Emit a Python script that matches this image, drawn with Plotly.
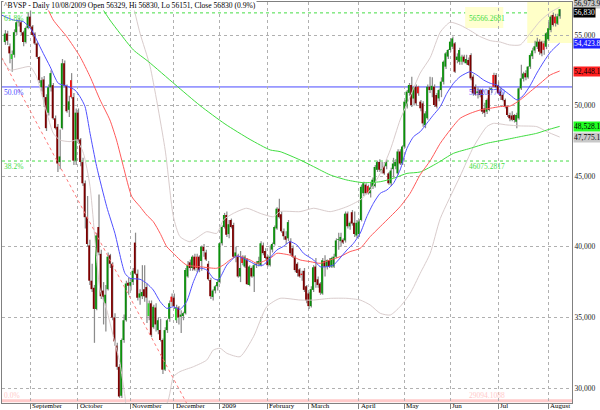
import plotly.graph_objects as go

# ---------------- data ----------------
opens = [
    54500, 55100, 54200, 53300, 53600, 55200, 55900, 55900, 55200, 54500,
    55500, 56300, 55600, 55100, 54400, 53450, 51300, 51850, 50600, 49500,
    51300, 51450, 49100, 48500, 46000, 48400, 53000, 51400, 49700, 51800,
    50600, 46100, 49500, 47600, 46000, 44500, 42100, 40100, 37600, 37100,
    35600, 41400, 39500, 36900, 36000, 37000, 39400, 38800, 35000, 33000,
    31500, 29450, 33400, 34800, 37450, 37250, 37500, 40300, 38100, 36400,
    36500, 37000, 37150, 35100, 36000, 34300, 35700, 34100, 34100, 33400,
    31300, 34100, 34900, 36470, 36400, 34800, 35700, 35050, 35100, 35300,
    37900, 38900, 38500, 39300, 39300, 39300, 39000, 40000, 39600, 38800,
    37650, 36450, 36900, 37200, 37500, 40250, 41400, 42250, 40900, 41900,
    41550, 39300, 39300, 37900, 39300, 38600, 39100, 37300, 38500, 37900,
    38700, 38800, 38700, 40100, 39700, 39300, 38700, 39800, 40200, 41300,
    42700, 42300, 41100, 40750, 40600, 40400, 39900, 39300, 38800, 38400,
    38100, 38300, 37200, 36700, 35800, 36950, 38600, 37700, 37400, 36700,
    39000, 38600, 39050, 38600, 38600, 39300, 40500, 40400, 40500, 40450,
    42350, 41450, 42450, 41700, 40800, 40900, 41900, 43800, 44400, 44300,
    43800, 44250, 44300, 45450, 46000, 45400, 45700, 45700, 45200, 44500,
    45500, 45700, 45200, 46750, 45900, 47100, 49950, 50900, 51460, 50500,
    51340, 51340, 50280, 50160, 48620, 49100, 51340, 51100, 51340, 50750,
    50510, 51100, 51690, 52760, 53470, 53940, 54170, 54410, 53230, 53110,
    53110, 53470, 53000, 53230, 53580, 52050, 51340, 50900, 51100, 51100,
    49800, 49570, 51100, 51100, 52170, 52170, 51460, 51000, 50750, 50400,
    49930, 49330, 49300, 49330, 48860, 49100, 51220, 51900, 52300, 52000,
    52760, 53500, 53900, 54170, 54530, 54530, 54410, 54170, 54700, 55350,
    56420, 56300, 55800, 56329,
]
highs = [
    55350, 55300, 54400, 53900, 55400, 56100, 56200, 56000, 55300, 55600,
    56600, 56800, 55700, 55200, 54500, 53500, 52000, 52100, 50800, 51500,
    52500, 51600, 49300, 48700, 48300, 53300, 53200, 51500, 50700, 52300,
    50900, 49800, 49800, 47700, 46300, 44700, 43600, 40500, 38800, 37300,
    41000, 43700, 39800, 37500, 37300, 39600, 39500, 38900, 35300, 33200,
    31700, 33500, 35200, 37600, 37800, 37700, 38500, 41000, 38400, 37000,
    38700, 38700, 37400, 36200, 36200, 35900, 36000, 35000, 34900, 33500,
    34300, 34900, 36200, 36700, 36700, 35900, 35800, 35500, 35400, 38500,
    39000, 39100, 39400, 39500, 39500, 39400, 40100, 40200, 39800, 39000,
    37800, 37000, 37300, 37700, 40300, 41500, 42400, 42500, 41900, 42000,
    41700, 40000, 39500, 39700, 39400, 39400, 39200, 38700, 38600, 38800,
    39000, 39300, 40400, 40300, 39900, 39400, 40100, 40300, 41500, 42800,
    43400, 42500, 41300, 41100, 41900, 40600, 40100, 39400, 38900, 38500,
    38300, 38500, 37300, 36800, 37200, 38700, 39200, 37900, 37500, 39200,
    39400, 39100, 39200, 39300, 39500, 40600, 41000, 41000, 40600, 42500,
    42500, 41800, 42600, 42500, 41900, 41950, 44400, 44600, 44500, 44400,
    44600, 44900, 45800, 46100, 46200, 46000, 46000, 46200, 45300, 45600,
    46300, 46200, 46900, 46900, 47200, 50400, 51100, 51600, 52050, 51400,
    51500, 51400, 50400, 50300, 49600, 51500, 52050, 52000, 51500, 50900,
    51200, 52000, 53200, 53800, 54000, 54760, 54900, 54500, 53700, 54100,
    53600, 53600, 53600, 53400, 53700, 52200, 51500, 51300, 51200, 51200,
    50200, 50500, 51300, 51300, 52330, 52300, 51700, 51300, 50900, 50500,
    50000, 49500, 49600, 49400, 49500, 51300, 52900, 52400, 52500, 52800,
    53700, 54100, 54600, 54800, 54700, 54600, 54600, 55200, 55900, 56400,
    56600, 56500, 56500, 56830,
]
lows = [
    54300, 54300, 53000, 52400, 53400, 55000, 55600, 55000, 54200, 54400,
    55400, 55500, 54900, 54300, 53300, 51600, 51000, 49900, 48200, 49300,
    51000, 49000, 48300, 45300, 45500, 48300, 51300, 49500, 49200, 50500,
    45800, 45800, 47300, 45700, 44300, 41300, 40000, 37300, 36800, 33200,
    35500, 39400, 36300, 34500, 34000, 36900, 38500, 34800, 33000, 31300,
    29300, 29300, 33200, 34700, 36600, 36900, 37300, 38000, 36200, 35900,
    36300, 36100, 34600, 34800, 33600, 34200, 34000, 33800, 33300, 31000,
    31200, 33900, 34700, 35800, 35600, 34600, 34500, 33900, 34800, 35200,
    37800, 38300, 38300, 38300, 38200, 38200, 38300, 39300, 39000, 37600,
    36300, 36200, 36700, 36900, 37400, 40100, 41300, 40700, 40600, 41300,
    39200, 38900, 37800, 37500, 38700, 38500, 37300, 37200, 37800, 36800,
    38500, 38600, 38600, 39400, 39100, 38600, 38600, 39600, 40100, 41200,
    42000, 41000, 40500, 40200, 40400, 39400, 39200, 38200, 37900, 37800,
    37600, 36800, 36000, 35600, 35700, 36800, 37100, 37100, 36600, 36600,
    37900, 38400, 38500, 38500, 38500, 39200, 39800, 40000, 40200, 40300,
    41300, 41200, 41500, 40700, 40600, 40700, 41800, 43600, 43700, 43700,
    43500, 44100, 44200, 45300, 45300, 45200, 45100, 45500, 44400, 44300,
    44900, 45500, 45100, 45800, 45800, 47000, 49800, 50700, 49900, 50000,
    50000, 50700, 49600, 48500, 48400, 49000, 50900, 50600, 49900, 49800,
    50300, 50600, 51500, 52600, 53300, 53800, 54000, 52300, 53000, 52900,
    52900, 53000, 52900, 52800, 51800, 50700, 50700, 50500, 50600, 49400,
    49200, 49400, 49600, 50900, 51300, 51200, 50800, 50400, 50300, 49800,
    49200, 48900, 48900, 48800, 48400, 49000, 51100, 51700, 51800, 51900,
    52600, 53300, 53700, 54000, 53600, 53500, 53600, 54000, 54600, 55200,
    55600, 55600, 55700, 56151,
]
closes = [
    55100, 54600, 53700, 53650, 55200, 55900, 55950, 55200, 54500, 55500,
    56300, 55600, 55000, 54400, 53450, 51800, 51800, 50600, 48400, 51300,
    52300, 49100, 48400, 45900, 46400, 53000, 51400, 49600, 50300, 50600,
    46100, 49500, 47600, 46000, 44500, 42100, 40200, 37600, 37000, 35600,
    40800, 39600, 36500, 36450, 36600, 39300, 38800, 35000, 33300, 31500,
    29400, 33400, 34800, 37400, 37250, 37500, 38300, 38100, 36400, 36700,
    36800, 36500, 36400, 36000, 33750, 35750, 34500, 34800, 33400, 31300,
    34100, 34800, 36000, 36100, 35800, 35700, 35000, 35200, 35300, 38350,
    38700, 38500, 39300, 38400, 38500, 38350, 40000, 39700, 39100, 37700,
    36500, 36900, 37200, 37500, 40250, 41400, 42250, 40850, 41600, 41400,
    39300, 39600, 37900, 38500, 38850, 39300, 37350, 38600, 37900, 38700,
    38800, 39000, 40250, 39550, 39200, 38700, 39300, 40200, 41400, 42700,
    42100, 41100, 40750, 40500, 41750, 39550, 39300, 38350, 38150, 37900,
    38000, 36950, 36200, 35800, 37000, 38550, 37500, 37300, 36750, 39050,
    38600, 39050, 38600, 39200, 39300, 40450, 40500, 40700, 40300, 42350,
    41450, 41700, 41650, 40900, 41700, 41800, 44250, 44500, 43800, 43800,
    44200, 44750, 45650, 46000, 45450, 45500, 45200, 46000, 44500, 45400,
    45900, 46000, 46750, 45900, 47100, 50280, 50990, 51460, 50040, 51300,
    50160, 50870, 49810, 48740, 49450, 51340, 51100, 51400, 50040, 49930,
    51100, 51700, 53110, 53700, 53940, 54530, 54760, 52400, 53470, 53940,
    53470, 53110, 53300, 52880, 51930, 50870, 50800, 51000, 50750, 49570,
    49500, 50400, 49700, 51220, 51340, 51300, 50870, 50700, 50400, 49930,
    49330, 49100, 49000, 48980, 49330, 51220, 51930, 52280, 52000, 52760,
    53580, 53900, 54200, 54530, 53820, 53700, 53950, 55120, 55470, 56300,
    55710, 55830, 56323, 56830,
]

month_ticks = [11, 32, 55, 74, 94, 115, 133, 155, 175, 195, 216, 238]
month_labels = ["September", "October", "November", "December", "2009", "February",
                "March", "April", "May", "Jun", "Jul", "August"]
price_ticks = [30000, 35000, 40000, 45000, 50000, 55000]

# moving averages / bands, read at sample points (trading-day index, value)
ma20_x = [-1.3, 3.7, 8.1, 11.7, 13.9, 16.8, 19.8, 23.4, 27.1, 30.7,
          32.9, 35.1, 37.3, 40.2, 44.6, 48.2, 52.6, 54.8, 59.2, 62.1,
          65, 68, 70.9, 73.8, 76.7, 79.6, 82.6, 85.5, 88.4, 91.3,
          93.5, 97.2, 101.6, 104.5, 107.4, 110.3, 113.2, 115.4, 119.1, 122,
          124.9, 127.9, 130.8, 135.2, 138.1, 141, 143.9, 146.1, 149.8, 152.7,
          155.6, 158.5, 161.4, 164.4, 167.3, 170.2, 173.1, 176.1, 179, 181.9,
          184.8, 187.5, 190.7, 193.6, 196.5, 199.4, 203.8, 206.7, 209.7, 212.6,
          215.5, 218.4, 221.3, 224.3, 227, 230, 233, 236, 239, 243]
ma20_y = [56400, 56060, 55950, 55350, 54650, 53700, 52760, 51580, 51390, 51100,
          50630, 49930, 48040, 45680, 42840, 40950, 38120, 37770, 37700, 37410,
          36940, 36120, 35640, 35760, 35570, 36120, 37530, 38480, 38360, 37770,
          37650, 38710, 39350, 39180, 38950, 38710, 38710, 39070, 39770, 40030,
          40360, 40130, 39540, 39070, 38590, 38590, 38710, 39070, 39770, 40250,
          40950, 42130, 43080, 43790, 44020, 44500, 45440, 46970, 47800, 48150,
          48740, 49300, 49930, 50870, 51580, 52050, 52400, 52170, 51810, 51580,
          51460, 51100, 50750, 50400, 50700, 51400, 52300, 53100, 53800, 54424]

ma50_x = [12, 16.8, 21.2, 27.1, 32.9, 37.3, 41.7, 46, 48.9, 51.9,
          55.6, 59.2, 62.1, 65, 68, 70.9, 73.8, 76.7, 79.6, 85.5,
          92.8, 95.7, 98.6, 101.6, 107.4, 110.3, 116.2, 119.1, 122, 125,
          129.3, 133.7, 138.1, 142.5, 146.8, 151.2, 155.6, 160, 164.4, 168.8,
          173.1, 177.5, 181.9, 186.3, 190.7, 195, 199.4, 203.8, 208.2, 212.6,
          217, 221.3, 225.7, 230.1, 234.5, 238.9, 243]
ma50_y = [58300, 57480, 56060, 54880, 53470, 52050, 50400, 48980, 47560, 45680,
          43550, 42840, 42250, 41780, 40950, 40010, 39540, 39070, 38710, 38590,
          38480, 38710, 39070, 39350, 39070, 38830, 39180, 39540, 39500, 39400,
          39070, 38950, 38830, 39070, 39300, 39660, 39890, 40720, 41430, 42130,
          42840, 43790, 45100, 46100, 47330, 48270, 49100, 49450, 49690, 49810,
          49930, 49970, 50400, 50990, 51580, 52170, 52448]

ma200_x = [40, 41.7, 46, 50.4, 56.3, 62.9, 74.5, 85.5, 96.4, 107.4,
           116.2, 120.55, 129.3, 135.2, 142.5, 149.8, 157.1, 164.4, 170.2, 176.1,
           181.9, 189.2, 196.5, 203.8, 211.1, 218.4, 225.7, 233, 237.4, 243]
ma200_y = [57600, 57125, 56060, 55120, 53940, 53110, 51500, 50000, 48700, 47600,
           46860, 46740, 46150, 45680, 45090, 44730, 44540, 44610, 44850, 45200,
           45300, 45910, 46620, 46970, 47330, 47560, 47800, 48040, 48270, 48528]

bb_up_x = [54, 55.6, 59.2, 63.6, 70.2, 73.8, 76.7, 81.1, 88.4, 92.8,
           95.7, 100.1, 105.9, 111.8, 117.6, 120.55, 129.3, 135.2, 142.5, 149.8,
           155.6, 160, 164.4, 168.8, 173.1, 177.5, 181.9, 186.3, 190.7, 195,
           199.4, 204, 208, 212.6, 217, 221, 225.7, 230, 234.5, 238.9, 243]
bb_up_y = [58500, 57480, 55120, 52760, 46860, 42130, 40720, 40360, 41070, 40950,
           41900, 42370, 42730, 42370, 42130, 42500, 42490, 42730, 42490, 42840,
           43320, 44020, 45200, 46860, 48980, 50630, 52300, 53400, 55200, 55900,
           55700, 55300, 54900, 54600, 54500, 54300, 54300, 55100, 56000, 56600, 56974]

bb_lo_x = [-1.3, 2.3, 6.6, 11, 13.9, 16.8, 21.2, 24.1, 28.5, 31.4,
           34.4, 37.3, 41.7, 44.6, 47.5, 50.4, 52.6, 55, 70.9, 73.8,
           76.7, 82.6, 88.4, 91.3, 94.3, 97.2, 103, 108.9, 114.7, 120.55,
           129.3, 135.2, 142.5, 149.8, 155.6, 160, 164.4, 168.8, 173.1, 177.5,
           181.9, 186.3, 190.7, 199.4, 205.3, 211.1, 214, 219.9, 225.7, 233,
           237.4, 243]
bb_lo_y = [53350, 52520, 52640, 52760, 52050, 50400, 48040, 47560, 47450, 47560,
           46620, 44260, 36940, 35530, 33640, 31750, 29390, 27000, 28900, 30800,
           31160, 31510, 31980, 32690, 32810, 32460, 32220, 33640, 35760, 36350,
           36230, 36230, 36350, 36350, 36230, 35880, 35290, 35170, 35760, 36700,
           38120, 39540, 42000, 45000, 47090, 48510, 48740, 48630, 48560, 48510,
           48150, 47775]

trend_x = [-1.4, 80]
trend_y = [53400, 28800]

fib_levels = [29094.1088, 46075.2817, 51320.7749, 56566.2681]
fib_pct = ["0.0%", "38.2%", "50.0%", "61.8%"]
fib_text = ["29094.1088", "46075.2817", "51320.7749", "56566.2681"]

last_values = [56973.9, 56830, 54423.8, 52448.1, 48528.1, 47775.1]
last_labels = ["56,973.9", "56,830", "54,423.8", "52,448.1", "48,528.1", "47,775.1"]

title_text = "^BVSP - Daily 10/08/2009 Open 56329, Hi 56830, Lo 56151, Close 56830 (0.9%)"

# ---------------- styles ----------------
SERIF = "Liberation Serif, Times New Roman, serif"
fib_colors = ["#ffcaca", "#44dd44", "#4a4aff", "#44dd44"]
fib_anchor = ["bottom", "top", "top", "top"]
last_bg = ["#c8c8c8", "#000000", "#2020ff", "#ff2020", "#22ff22", "#c8c8c8"]
last_fg = ["#000000", "#ffffff", "#ffffff", "#000000", "#000000", "#000000"]
last_shift = [4, -3, 0, 0, 0, 0]

n = len(closes)
idx = list(range(n))
range_h = [h - l for h, l in zip(highs, lows)]
body_base = [min(o, c) for o, c in zip(opens, closes)]
body_h = [max(abs(c - o), 45) for o, c in zip(opens, closes)]
body_col = []
for i, (o, c) in enumerate(zip(opens, closes)):
    p = closes[i - 1] if i > 0 else o
    if c >= o:
        body_col.append("#0a8f0a" if c >= p else "#2ed82e")
    else:
        body_col.append("#7d0000" if c < p else "#f01414")

fig = go.Figure()

# high-low range bars (gray) and bodies
fig.add_trace(go.Bar(x=idx, y=range_h, base=lows, width=0.55, offset=-0.05,
                     marker=dict(color="#8c8c8c", line=dict(width=0)), hoverinfo="skip"))
fig.add_trace(go.Bar(x=idx, y=body_h, base=body_base, width=0.78, offset=-0.5,
                     marker=dict(color=body_col, line=dict(width=0)), hoverinfo="skip"))


def add_line(xs, ys, color, width=1.0, dash="solid"):
    fig.add_trace(go.Scatter(x=xs, y=ys, mode="lines", hoverinfo="skip",
                             line=dict(color=color, width=width, dash=dash,
                                       shape="spline", smoothing=0.6)))


add_line(bb_up_x, bb_up_y, "#d9cccc")
add_line(bb_lo_x, bb_lo_y, "#d9cccc")
add_line(ma200_x, ma200_y, "#40dd40")
add_line(ma50_x, ma50_y, "#ff5a5a")
add_line(ma20_x, ma20_y, "#5050ff")
fig.add_trace(go.Scatter(x=trend_x, y=trend_y, mode="lines", hoverinfo="skip",
                         line=dict(color="#ff7a7a", width=1, dash="dot")))

shapes = []
# highlight boxes
shapes.append(dict(type="rect", xref="x", yref="y", x0=228.8, x1=252, y0=54430, y1=58000,
                   fillcolor="#ffffc8", line=dict(width=0), layer="below"))
shapes.append(dict(type="rect", xref="x", yref="y", x0=201.6, x1=218.3, y0=55500, y1=56980,
                   fillcolor="#ffffd0", line=dict(width=0), layer="below"))
# fibonacci levels
for lv, col in zip(fib_levels, fib_colors):
    if col == "#4a4aff":
        ln = dict(color=col, width=1)
    elif col == "#ffcaca":
        ln = dict(color=col, width=3)
    else:
        ln = dict(color=col, width=1, dash="dot")
    shapes.append(dict(type="line", xref="paper", yref="y", x0=0, x1=1, y0=lv, y1=lv,
                       line=ln, layer="below"))

ann = []
ann.append(dict(text=title_text, xref="paper", yref="paper", x=0.002, y=1, xanchor="left",
                yanchor="top", yshift=2, showarrow=False, bgcolor="white", borderpad=0,
                font=dict(family=SERIF, size=7.6, color="#000000")))
for lv, pct, txt, col, anc in zip(fib_levels, fib_pct, fib_text, fib_colors, fib_anchor):
    ann.append(dict(text=pct, xref="paper", yref="y", x=0.002, y=lv, xanchor="left",
                    yanchor=anc, showarrow=False, borderpad=0,
                    font=dict(family=SERIF, size=7.5, color=col)))
    ann.append(dict(text=txt, xref="x", yref="y", x=202.9, y=lv, xanchor="left",
                    yanchor=anc, showarrow=False, borderpad=0,
                    font=dict(family=SERIF, size=7.5, color=col)))
for v, t, bg, fg, sh in zip(last_values, last_labels, last_bg, last_fg, last_shift):
    ann.append(dict(text=t, xref="paper", yref="y", x=1, y=v, xanchor="left", xshift=1,
                    yshift=sh, showarrow=False, bgcolor=bg, borderpad=0,
                    font=dict(family=SERIF, size=7.5, color=fg)))
for tk, lab in zip(month_ticks, month_labels):
    ann.append(dict(text=lab, xref="x", yref="paper", x=tk, y=0, xanchor="left",
                    yanchor="top", xshift=1, yshift=2, showarrow=False, borderpad=0,
                    font=dict(family=SERIF, size=7, color="#000000")))

fig.update_layout(
    width=600, height=410, margin=dict(l=2, r=28, t=2, b=7),
    paper_bgcolor="white", plot_bgcolor="white", showlegend=False,
    barmode="overlay", shapes=shapes, annotations=ann,
    xaxis=dict(range=[-1.27, 248.4], tickvals=month_ticks, showticklabels=False,
               ticks="outside", ticklen=5, tickcolor="#808080",
               showgrid=True, gridcolor="#b0b0b0", griddash="dot", gridwidth=1,
               showline=True, mirror=True, linecolor="#808080", zeroline=False),
    yaxis=dict(range=[28938, 57337], side="right", tickvals=price_ticks, tickformat=",",
               tickfont=dict(family=SERIF, size=7.5, color="#222222"), ticks="",
               showgrid=True, gridcolor="#b0b0b0", griddash="dot", gridwidth=1,
               showline=True, mirror=True, linecolor="#808080", zeroline=False),
)

fig.write_html("out.html", config={"displayModeBar": False, "staticPlot": True},
               post_script="document.body.style.margin='0';document.body.style.overflow='hidden';")
